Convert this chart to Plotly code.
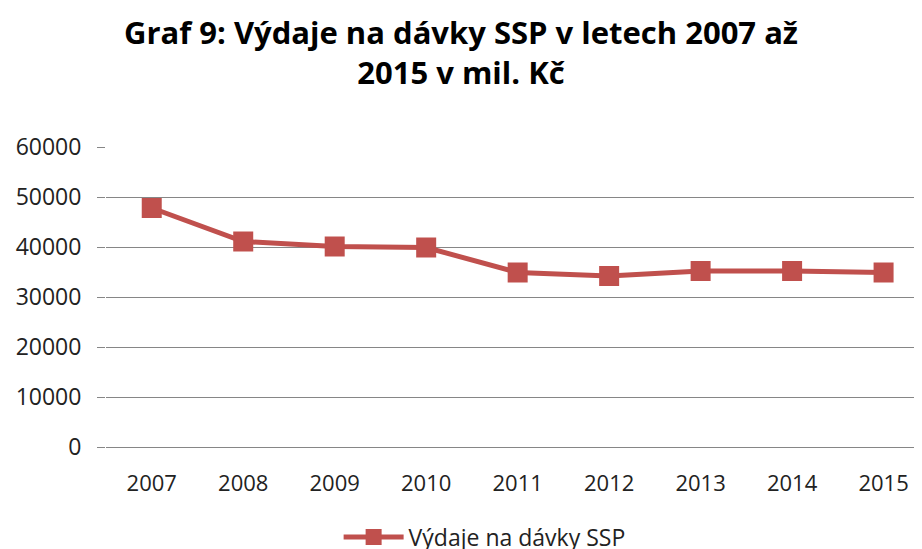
import plotly.graph_objects as go

roky = ["2007", "2008", "2009", "2010", "2011", "2012", "2013", "2014", "2015"]
vydaje = [47800, 41100, 40100, 39900, 34900, 34200, 35200, 35200, 34900]
y_ticks = [0, 10000, 20000, 30000, 40000, 50000, 60000]

red = "#C0504D"
font = "Open Sans"

fig = go.Figure(go.Scatter(
    x=list(range(len(roky))), y=vydaje,
    mode="lines+markers",
    name="Výdaje na dávky SSP",
    line=dict(color=red, width=5),
    marker=dict(symbol="square", size=20, color=red),
))

# page body adds an 8px margin, so the figure is a bit smaller than the window
fig.update_layout(
    width=914, height=541,
    margin=dict(l=98, r=0, t=139, b=102, autoexpand=False),
    paper_bgcolor="white", plot_bgcolor="white",
    font=dict(family=font, color="#000000"),
    xaxis=dict(
        range=[-0.5, 8.42],
        tickvals=list(range(len(roky))), ticktext=roky,
        showgrid=False, zeroline=False,
        showline=True, linecolor="#868686", linewidth=1,
        ticks="outside", ticklen=17, tickcolor="rgba(0,0,0,0)",
        tickfont=dict(size=22, color="#222222"),
    ),
    yaxis=dict(
        range=[0, 60000],
        tickvals=y_ticks, ticktext=[str(v) for v in y_ticks],
        showgrid=True, gridcolor="#868686", gridwidth=1,
        zeroline=False,
        ticks="outside", ticklen=8, tickcolor="#868686",
        ticklabelstandoff=11,
        tickfont=dict(size=23, color="#222222"),
    ),
    showlegend=True,
    legend=dict(
        orientation="h", x=0.464, xanchor="center", y=-0.30, yanchor="middle",
        font=dict(size=23, color="#222222"),
        itemwidth=60,
    ),
)

# title as annotation so both lines sit where the reference has them
fig.add_annotation(
    text="<b>Graf 9: Výdaje na dávky SSP v letech 2007 až<br>2015 v mil. Kč</b>",
    xref="paper", yref="paper", x=0.435, y=1.316,
    xanchor="center", yanchor="middle", showarrow=False,
    font=dict(size=31, family=font, color="black"),
)

fig.write_html("out.html")
